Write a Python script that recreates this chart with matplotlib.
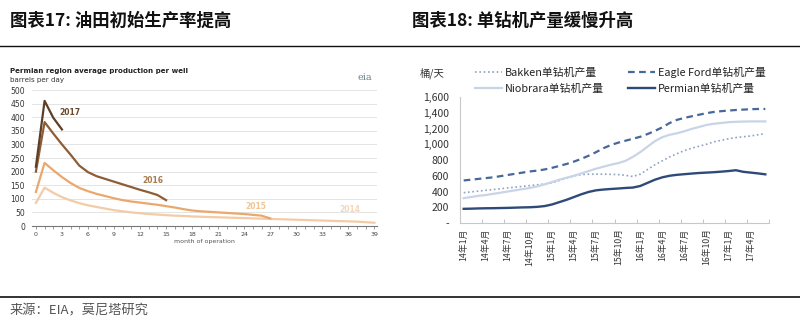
import numpy as np
import matplotlib
matplotlib.use('Agg')
import matplotlib.pyplot as plt
from matplotlib.lines import Line2D

plt.rcParams['font.family'] = ['Noto Sans CJK SC', 'DejaVu Sans']

# ---- left panel: Permian average production per well (barrels per day)
m2017 = [218, 460, 398, 355]
m2016 = [200, 382, 340, 300, 262, 222, 198, 183, 173, 163, 153, 143, 133, 124, 114, 95]
m2015 = [125, 232, 205, 180, 158, 140, 128, 118, 110, 102, 95, 90, 86, 82, 78, 73,
         68, 62, 57, 54, 52, 50, 48, 46, 44, 41, 38, 28]
m2014 = [85, 141, 122, 106, 94, 84, 76, 70, 64, 58, 54, 50, 47, 44, 42, 40, 38, 37,
         35, 34, 33, 32, 31, 30, 29, 28, 27, 26, 25, 24, 23, 22, 21, 20, 19, 18, 17,
         16, 14, 12]
vintage_names = ['2017', '2016', '2015', '2014']
vintage_colors = ['#5e3f26', '#8e5d35', '#eaa86e', '#f3cba5']
label_colors = ['#6b4a2e', '#a97a4c', '#f0c594', '#f4d6b8']
label_pos = [(3.9, 419), (13.5, 167), (25.3, 71), (36.2, 59)]

# ---- right panel: output per rig (桶/天), monthly Jan-2014 .. Jun-2017
bakken = [385, 395, 405, 415, 425, 435, 445, 455, 465, 475, 485, 495, 510, 540, 570,
          600, 615, 620, 620, 620, 618, 615, 605, 590, 620, 680, 740, 790, 840, 880,
          920, 950, 975, 1000, 1030, 1050, 1070, 1085, 1095, 1105, 1120, 1135]
niobrara = [315, 330, 345, 355, 370, 385, 400, 415, 430, 445, 465, 490, 520, 550, 575,
            600, 630, 660, 690, 715, 740, 760, 790, 840, 900, 970, 1040, 1090, 1120,
            1140, 1165, 1195, 1220, 1245, 1260, 1270, 1280, 1285, 1288, 1290, 1290, 1290]
eagle_ford = [540, 550, 560, 570, 580, 595, 610, 625, 640, 655, 665, 680, 700, 725, 750,
              780, 815, 855, 900, 950, 990, 1020, 1045, 1070, 1095, 1130, 1170, 1215,
              1270, 1310, 1335, 1355, 1375, 1395, 1410, 1420, 1428, 1435, 1440, 1445,
              1448, 1448]
permian = [180, 182, 185, 187, 188, 190, 192, 195, 198, 200, 205, 215, 235, 265, 295,
           330, 365, 395, 415, 425, 432, 438, 445, 450, 470, 510, 550, 580, 600, 612,
           620, 628, 635, 640, 645, 652, 660, 670, 650, 640, 630, 618]
month_labels = ['14年1月', '14年4月', '14年7月', '14年10月', '15年1月', '15年4月',
                '15年7月', '15年10月', '16年1月', '16年4月', '16年7月', '16年10月',
                '17年1月', '17年4月']
series_names = ['Bakken单钻机产量', 'Niobrara单钻机产量', 'Eagle Ford单钻机产量', 'Permian单钻机产量']

W, H = 800, 323
fig = plt.figure(figsize=(W / 100, H / 100), dpi=100)


def px_axes(x0, y0, x1, y1):
    # axes from pixel box (top-left origin)
    return fig.add_axes([x0 / W, 1 - y1 / H, (x1 - x0) / W, (y1 - y0) / H])


# page furniture
fig.text(10 / W, 1 - 21 / H, '图表17: 油田初始生产率提高', fontsize=12.5, fontweight='bold',
         va='center', ha='left', color='#111111')
fig.text(412 / W, 1 - 21 / H, '图表18: 单钻机产量缓慢升高', fontsize=12.5, fontweight='bold',
         va='center', ha='left', color='#111111')
fig.add_artist(Line2D([0, 1], [1 - 46 / H, 1 - 46 / H], color='#111111', lw=1.0))
fig.add_artist(Line2D([0, 1], [1 - 297 / H, 1 - 297 / H], color='#333333', lw=1.4))
fig.text(10 / W, 1 - 311 / H, '来源：EIA，莫尼塔研究', fontsize=9.5, va='center',
         ha='left', color='#555555')

# ---------------- left chart
ax1 = px_axes(32, 90, 377, 226)
series_l = [m2017, m2016, m2015, m2014]
for vals, c in zip(series_l[::-1], vintage_colors[::-1]):
    ax1.plot(np.arange(len(vals)), vals, color=c, lw=1.6, solid_joinstyle='round')
for name, c, (mx, my) in zip(vintage_names, label_colors, label_pos):
    ax1.text(mx, my, name, color=c, fontsize=5.5, fontweight='bold', ha='center',
             va='center', family='DejaVu Sans')
ax1.set_xlim(-0.45, 39.3)
ax1.set_ylim(0, 500)
ax1.set_yticks(np.arange(0, 501, 50))
ax1.set_xticks(np.arange(0, 40, 3))
ax1.set_xticks(np.arange(0, 40, 1), minor=True)
ax1.grid(axis='y', color='#e4e4e4', lw=0.7)
ax1.set_axisbelow(True)
for s in ['top', 'right', 'left']:
    ax1.spines[s].set_visible(False)
ax1.spines['bottom'].set_color('#777777')
ax1.spines['bottom'].set_linewidth(0.8)
ax1.tick_params(axis='y', length=0, labelsize=5.5, labelcolor='#333333', pad=5)
ax1.tick_params(axis='x', which='both', length=2.5, width=0.5, color='#777777',
                labelsize=4.5, labelcolor='#444444', pad=1.5)
for lab in ax1.get_xticklabels() + ax1.get_yticklabels():
    lab.set_family('DejaVu Sans')
ax1.set_xlabel('month of operation', fontsize=4.5, color='#555555', labelpad=2,
               family='DejaVu Sans')
fig.text(10 / W, 1 - 71 / H, 'Permian region average production per well', fontsize=5.1,
         fontweight='bold', color='#222222', va='center', family='DejaVu Sans')
fig.text(10 / W, 1 - 80 / H, 'barrels per day', fontsize=5.1, color='#333333',
         va='center', family='DejaVu Sans')
fig.text(365 / W, 1 - 77 / H, 'eia', fontsize=7, color='#6f7f86', va='center',
         ha='center', family='DejaVu Serif')

# ---------------- right chart
ax2 = px_axes(460, 97, 769, 223)
x = np.arange(len(permian))
ax2.plot(x, bakken, color='#8fa2c4', lw=1.2, ls=(0, (1, 1.6)), label=series_names[0])
ax2.plot(x, niobrara, color='#c9d4e6', lw=1.6, label=series_names[1])
ax2.plot(x, eagle_ford, color='#47689a', lw=1.6, ls=(0, (3, 2)), label=series_names[2])
ax2.plot(x, permian, color='#2e4a78', lw=1.7, label=series_names[3])
ax2.set_xlim(-0.5, len(permian) - 0.5)
ax2.set_ylim(0, 1600)
ax2.set_yticks(np.arange(0, 1601, 200))
ax2.set_yticklabels(['-'] + [f'{v:,}' for v in range(200, 1601, 200)])
ax2.set_xticks(np.arange(-0.5, len(permian), 3))
ax2.set_xticklabels([])
ax2.set_xticks(np.arange(0, len(permian), 3), minor=True)
ax2.set_xticklabels(month_labels, minor=True, rotation=90, fontsize=6.3, color='#333333')
ax2.tick_params(axis='x', which='major', direction='in', length=3, width=0.6, color='#bbbbbb')
ax2.tick_params(axis='x', which='minor', length=0, pad=4)
ax2.tick_params(axis='y', direction='in', length=0, labelsize=7.5, labelcolor='#333333', pad=8)
for s in ['top', 'right']:
    ax2.spines[s].set_visible(False)
for s in ['left', 'bottom']:
    ax2.spines[s].set_color('#c8c8c8')
    ax2.spines[s].set_linewidth(0.8)
fig.text(432 / W, 1 - 73 / H, '桶/天', fontsize=7.5, color='#333333', va='center', ha='center')
ax2.legend(ncol=2, loc='upper left', bbox_to_anchor=(475 / W, 1 - 67 / H),
           bbox_transform=fig.transFigure, frameon=False, fontsize=7.8,
           handlelength=2.5, handletextpad=0.25, columnspacing=2.2, labelspacing=0.55,
           borderpad=0, borderaxespad=0, labelcolor='#222222')

fig.savefig('out.png', dpi=100)
